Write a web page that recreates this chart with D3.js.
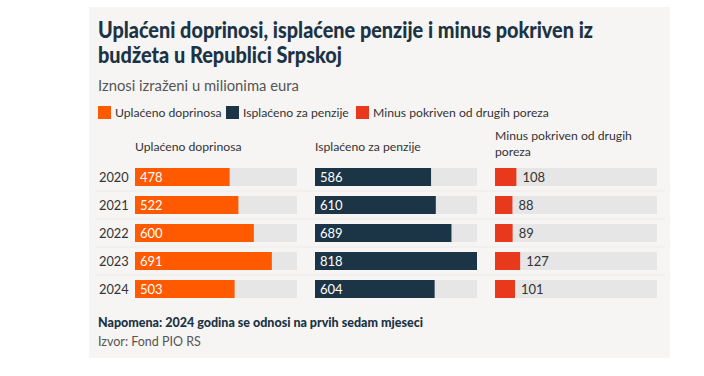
<!DOCTYPE html>
<html lang="en">
<head>
    <meta charset="UTF-8">
    <title>Penzije RS</title>
    <style>
        body { margin: 0; background: #fff; }
        text { font-family: Lato, "Noto Sans", sans-serif; }
    </style>
</head>
<body>
<script src="https://cdn.jsdelivr.net/npm/d3@7"></script>
<script>
    // data
    var years = ["2020", "2021", "2022", "2023", "2024"];
    var uplaceno = [478, 522, 600, 691, 503];
    var isplaceno = [586, 610, 689, 818, 604];
    var minus = [108, 88, 89, 127, 101];
    var seriesNames = ["Uplaćeno doprinosa", "Isplaćeno za penzije", "Minus pokriven od drugih poreza"];
    var headers = [["Uplaćeno doprinosa"], ["Isplaćeno za penzije"], ["Minus pokriven od drugih", "poreza"]];
    var colors = ["#ff5a00", "#1b3547", "#e8391d"];

    var svg = d3.select("body").append("svg")
            .attr("width", 704)
            .attr("height", 376);

    // panel background
    svg.append("rect")
            .attr("x", 89).attr("y", 7)
            .attr("width", 581).attr("height", 351)
            .attr("fill", "#f6f5f4");

    // title + subtitle
    var title = svg.append("text")
            .attr("y", 38)
            .style("font-size", "22px")
            .style("font-weight", 900)
            .style("fill", "#1b3344");
    title.append("tspan").attr("x", 98)
            .attr("textLength", 495).attr("lengthAdjust", "spacingAndGlyphs")
            .text("Uplaćeni doprinosi, isplaćene penzije i minus pokriven iz");
    title.append("tspan").attr("x", 98).attr("dy", 25)
            .attr("textLength", 244).attr("lengthAdjust", "spacingAndGlyphs")
            .text("budžeta u Republici Srpskoj");

    svg.append("text")
            .attr("x", 98).attr("y", 91)
            .style("font-size", "14.8px")
            .style("fill", "#555")
            .text("Iznosi izraženi u milionima eura");

    // legend
    var legendX = [98, 226, 356];
    var legend = svg.selectAll(".legend")
            .data(seriesNames)
            .enter().append("g")
            .attr("transform", function(d, i) { return "translate(" + legendX[i] + ",106)"; });
    legend.append("rect")
            .attr("width", 13).attr("height", 13)
            .attr("fill", function(d, i) { return colors[i]; });
    legend.append("text")
            .attr("x", 17).attr("y", 11)
            .style("font-size", "12.2px")
            .style("fill", "#333")
            .text(function(d) { return d; });

    // scales
    var x = d3.scaleLinear().domain([0, 818]).range([0, 162]);
    var y = d3.scaleBand().domain(years).range([168, 298]).paddingInner(10 / 28).paddingOuter(0);
    var colX = [135, 315, 495];
    var cols = [uplaceno, isplaceno, minus];

    // row separators
    svg.selectAll(".sep")
            .data(years.slice(1))
            .enter().append("line")
            .attr("x1", 95).attr("x2", 665)
            .attr("y1", function(d) { return y(d) - 5; })
            .attr("y2", function(d) { return y(d) - 5; })
            .attr("stroke", "#ecebea");

    // year labels
    svg.selectAll(".year")
            .data(years)
            .enter().append("text")
            .attr("x", 99)
            .attr("y", function(d) { return y(d) + y.bandwidth() / 2 + 5; })
            .style("font-size", "12.8px")
            .style("fill", "#333")
            .text(function(d) { return d; });

    cols.forEach(function(vals, c) {
        var g = svg.append("g").attr("transform", "translate(" + colX[c] + ",0)");

        var h = g.append("text")
                .attr("y", headers[c].length > 1 ? 140 : 151)
                .style("font-size", "12.2px")
                .style("fill", "#333");
        headers[c].forEach(function(line, i) {
            h.append("tspan").attr("x", 0).attr("dy", i ? 16 : 0).text(line);
        });

        g.selectAll(".track")
                .data(years)
                .enter().append("rect")
                .attr("x", 0)
                .attr("y", function(d) { return y(d); })
                .attr("width", x.range()[1])
                .attr("height", y.bandwidth())
                .attr("fill", "#e6e6e6");

        g.selectAll(".bar")
                .data(vals)
                .enter().append("rect")
                .attr("x", 0)
                .attr("y", function(d, i) { return y(years[i]); })
                .attr("width", function(d) { return x(d); })
                .attr("height", y.bandwidth())
                .attr("fill", colors[c]);

        var inside = c < 2;
        g.selectAll(".val")
                .data(vals)
                .enter().append("text")
                .attr("x", function(d) { return inside ? 5 : x(d) + 6; })
                .attr("y", function(d, i) { return y(years[i]) + y.bandwidth() / 2 + 5; })
                .style("font-size", "13px")
                .style("fill", inside ? "#fff" : "#333")
                .text(function(d) { return d; });
    });

    // notes
    svg.append("text")
            .attr("x", 98).attr("y", 327)
            .style("font-size", "12.5px")
            .style("font-weight", 900)
            .style("fill", "#1b3344")
            .text("Napomena: 2024 godina se odnosi na prvih sedam mjeseci");
    svg.append("text")
            .attr("x", 98).attr("y", 346)
            .style("font-size", "12.5px")
            .style("fill", "#555")
            .text("Izvor: Fond PIO RS");
</script>
</body>
</html>
